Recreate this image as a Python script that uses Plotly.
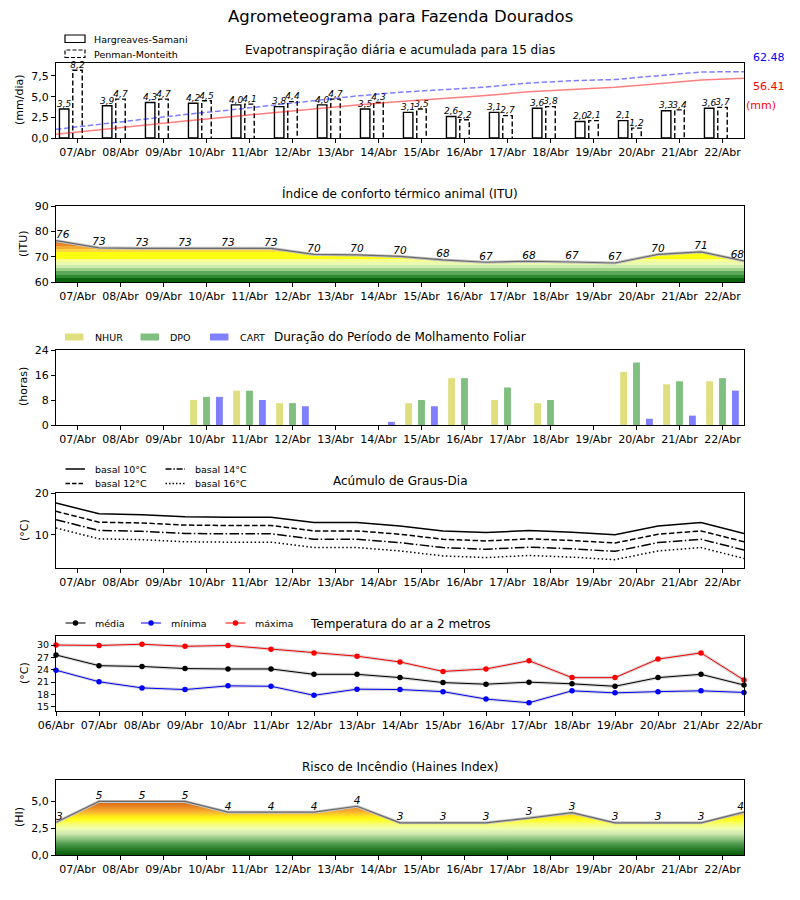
import math
import numpy as np
import plotly.graph_objects as go

# ---------------- data ----------------
dias = ["07/Abr", "08/Abr", "09/Abr", "10/Abr", "11/Abr", "12/Abr", "13/Abr", "14/Abr",
        "15/Abr", "16/Abr", "17/Abr", "18/Abr", "19/Abr", "20/Abr", "21/Abr", "22/Abr"]
dias_temp = ["06/Abr"] + dias

et_hs = [3.5, 3.9, 4.3, 4.2, 4.0, 3.8, 4.0, 3.5, 3.1, 2.6, 3.1, 3.6, 2.0, 2.1, 3.3, 3.6]
et_pm = [8.2, 4.7, 4.7, 4.5, 4.1, 4.4, 4.7, 4.3, 3.5, 2.2, 2.7, 3.8, 2.1, 1.2, 3.4, 3.7]
et_total_hs = 56.41
et_total_pm = 62.48

itu = [76.3, 73.5, 73.3, 73.3, 73.3, 73.3, 70.9, 70.7, 70.1, 68.7, 67.8, 68.2, 67.9, 67.5, 70.9, 71.9, 68.3]

nhur = [0, 0, 0, 8, 11, 7, 0, 0, 7, 15, 8, 7, 0, 17, 13, 14]
dpo = [0, 0, 0, 9, 11, 7, 0, 0, 8, 15, 12, 8, 0, 20, 14, 15]
cart = [0, 0, 0, 9, 8, 6, 0, 1, 6, 0, 0, 0, 0, 2, 3, 11]

gd_10 = [17.6, 15.0, 14.8, 14.3, 14.2, 14.2, 12.9, 12.9, 12.1, 10.9, 10.5, 11.0, 10.6, 10.0, 12.1, 12.9, 10.3]
gd_12 = [15.6, 13.0, 12.8, 12.3, 12.2, 12.2, 10.9, 10.9, 10.1, 8.9, 8.5, 9.0, 8.6, 8.0, 10.1, 10.9, 8.3]
gd_14 = [13.6, 11.0, 10.8, 10.3, 10.2, 10.2, 8.9, 8.9, 8.1, 6.9, 6.5, 7.0, 6.6, 6.0, 8.1, 8.9, 6.3]
gd_16 = [11.6, 9.0, 8.8, 8.3, 8.2, 8.2, 6.9, 6.9, 6.1, 4.9, 4.5, 5.0, 4.6, 4.0, 6.1, 6.9, 4.3]

t_med = [27.6, 25.0, 24.8, 24.3, 24.2, 24.2, 22.9, 22.9, 22.1, 20.9, 20.5, 21.0, 20.6, 20.0, 22.1, 22.9, 20.3]
t_min = [23.9, 21.1, 19.6, 19.2, 20.1, 20.0, 17.8, 19.3, 19.2, 18.7, 16.9, 16.0, 18.9, 18.4, 18.7, 18.9, 18.5]
t_max = [30.0, 29.9, 30.2, 29.7, 29.9, 29.0, 28.1, 27.3, 25.9, 23.6, 24.2, 26.2, 22.1, 22.1, 26.6, 28.1, 21.5]

haines = [3.05, 5.0, 5.0, 5.0, 4.0, 4.0, 4.0, 4.55, 3.0, 3.0, 3.0, 3.45, 3.95, 3.0, 3.0, 3.0, 4.0]

# ---------------- layout helpers ----------------
W, H = 800, 900
FONT = "DejaVu Sans"


def fx(p):
    return p / W


def fy(p):
    return 1 - p / H


XL, XR = 56, 744
panels = [(63, 138), (206, 282), (350, 425), (493, 568), (636, 711), (780, 855)]

fig = go.Figure()

n = len(dias)
xc = np.arange(n) + 0.5          # day centres
xp = np.arange(n + 1)            # 17 point positions


def fmt(v):
    return f"{v:.1f}".replace(".", ",")


# ---------- Panel 1: ET ----------
bw = 0.22
fig.add_trace(go.Bar(x=xc - 0.31, y=et_hs, width=bw, xaxis="x", yaxis="y",
                     marker=dict(color="white", line=dict(color="black", width=1.4)),
                     showlegend=False, hoverinfo="skip"))
ox, oy = [], []
for c, v in zip(xc, et_pm):
    ox += [c - bw / 2, c - bw / 2, c + bw / 2, c + bw / 2, None]
    oy += [0, v, v, 0, None]
fig.add_trace(go.Scatter(x=ox, y=oy, mode="lines", xaxis="x", yaxis="y",
                         line=dict(color="black", width=1.4, dash="5px,2.5px"),
                         showlegend=False, hoverinfo="skip"))
lab_font = dict(family=FONT, size=9, color="black", style="italic")
fig.add_trace(go.Scatter(x=xc - 0.31, y=et_hs, mode="text", text=[fmt(v) for v in et_hs],
                         textposition="top center", textfont=lab_font, xaxis="x", yaxis="y",
                         showlegend=False, cliponaxis=False, hoverinfo="skip"))
fig.add_trace(go.Scatter(x=xc, y=et_pm, mode="text", text=[fmt(v) for v in et_pm],
                         textposition="top center", textfont=lab_font, xaxis="x", yaxis="y",
                         showlegend=False, cliponaxis=False, hoverinfo="skip"))
acc_hs = list(np.cumsum(et_hs)) + [et_total_hs]
acc_pm = list(np.cumsum(et_pm)) + [et_total_pm]
fig.add_trace(go.Scatter(x=xp, y=acc_pm, mode="lines", xaxis="x", yaxis="y7",
                         line=dict(color="rgba(0,0,255,0.5)", width=1.5, dash="5.5px,2.5px"),
                         showlegend=False, hoverinfo="skip"))
fig.add_trace(go.Scatter(x=xp, y=acc_hs, mode="lines", xaxis="x", yaxis="y7",
                         line=dict(color="rgba(255,0,0,0.5)", width=1.5),
                         showlegend=False, hoverinfo="skip"))

# ---------- Panel 2: ITU ----------
itu_scale = [
    [0.00, "#0b640b"], [0.09, "#0b640b"], [0.09, "#2d8a2d"], [0.17, "#2d8a2d"],
    [0.17, "#5aa85a"], [0.25, "#5aa85a"], [0.25, "#9ccf88"], [0.325, "#9ccf88"],
    [0.325, "#cdeab0"], [0.40, "#cdeab0"], [0.40, "#eaf9b0"], [0.47, "#eaf9b0"],
    [0.47, "#f6ff90"], [0.53, "#f6ff90"], [0.53, "#ffff10"], [0.70, "#ffff10"],
    [0.70, "#fdd840"], [0.76, "#fdd840"], [0.76, "#f5ab34"], [0.835, "#f5ab34"],
    [0.835, "#e8842a"], [0.90, "#e8842a"], [0.90, "#d4641c"], [1.00, "#d4641c"],
]
fig.add_trace(go.Scatter(x=xp, y=itu, mode="lines", fill="tozeroy", xaxis="x2", yaxis="y2",
                         fillgradient=dict(type="vertical", colorscale=itu_scale, start=60, stop=77),
                         line=dict(color="#c4c4c4", width=3), showlegend=False, hoverinfo="skip"))
fig.add_trace(go.Scatter(x=xp, y=itu, mode="lines", xaxis="x2", yaxis="y2",
                         line=dict(color="#6a6a6a", width=1.2), showlegend=False, hoverinfo="skip"))
pos = ["top right"] + ["top center"] * (len(itu) - 2) + ["top left"]
lab_font2 = dict(family=FONT, size=10.5, color="black", style="italic")
fig.add_trace(go.Scatter(x=xp, y=itu, mode="text", text=[str(math.floor(v)) for v in itu],
                         textposition=pos, textfont=lab_font2, xaxis="x2", yaxis="y2",
                         showlegend=False, cliponaxis=False, hoverinfo="skip"))

# ---------- Panel 3: Molhamento ----------
mw = 0.16
for vals, off, col in [(nhur, -0.3, "#dfdf80"), (dpo, 0.0, "#80bf80"), (cart, 0.3, "#8080ff")]:
    fig.add_trace(go.Bar(x=xc + off, y=vals, width=mw, xaxis="x3", yaxis="y3",
                         marker=dict(color=col, line=dict(width=0)),
                         showlegend=False, hoverinfo="skip"))

# ---------- Panel 4: Graus-dia ----------
gd_styles = [(gd_10, "solid"), (gd_12, "5.5px,2.4px"), (gd_14, "9.6px,2.4px,1.5px,2.4px"), (gd_16, "1.5px,2.5px")]
for vals, dash in gd_styles:
    fig.add_trace(go.Scatter(x=xp, y=vals, mode="lines", xaxis="x4", yaxis="y4",
                             line=dict(color="black", width=1.5, dash=dash),
                             showlegend=False, hoverinfo="skip"))

# ---------- Panel 5: Temperatura ----------
for vals, col in [(t_med, "black"), (t_min, "blue"), (t_max, "red")]:
    fig.add_trace(go.Scatter(x=xp, y=vals, mode="lines", xaxis="x5", yaxis="y5",
                             line=dict(color="rgba(120,120,120,0.3)", width=3.2),
                             showlegend=False, hoverinfo="skip"))
    fig.add_trace(go.Scatter(x=xp, y=vals, mode="lines+markers", xaxis="x5", yaxis="y5",
                             line=dict(color=col, width=1), marker=dict(color=col, size=5.5),
                             showlegend=False, hoverinfo="skip", cliponaxis=False))

# ---------- Panel 6: Haines ----------
hi_scale = [
    [0.00, "#0a5a0a"], [0.10, "#257a25"], [0.20, "#4f9c4f"], [0.29, "#8fc47f"],
    [0.38, "#cde9ad"], [0.47, "#eefdb4"], [0.56, "#f8ff70"], [0.64, "#ffff18"],
    [0.70, "#ffe41c"], [0.77, "#f8b432"], [0.86, "#ea8a24"], [0.95, "#d56416"], [1.00, "#cc5a12"],
]
fig.add_trace(go.Scatter(x=xp, y=haines, mode="lines", fill="tozeroy", xaxis="x6", yaxis="y6",
                         fillgradient=dict(type="vertical", colorscale=hi_scale, start=0, stop=5.2),
                         line=dict(color="#c4c4c4", width=3), showlegend=False, hoverinfo="skip"))
fig.add_trace(go.Scatter(x=xp, y=haines, mode="lines", xaxis="x6", yaxis="y6",
                         line=dict(color="#6a6a6a", width=1.2), showlegend=False, hoverinfo="skip"))
fig.add_trace(go.Scatter(x=xp, y=haines, mode="text", text=[str(math.floor(v)) for v in haines],
                         textposition=pos, textfont=lab_font2, xaxis="x6", yaxis="y6",
                         showlegend=False, cliponaxis=False, hoverinfo="skip"))

# ---------------- axes ----------------
tickfont = dict(family=FONT, size=11, color="black")
base = dict(showline=True, mirror=True, linecolor="black", linewidth=1, ticks="outside",
            ticklen=4, tickwidth=1, tickcolor="black", showgrid=False, zeroline=False,
            tickfont=tickfont, automargin=False, fixedrange=True)

layout = {}
yspecs = [
    dict(range=[0, 9.07], tickvals=[0, 2.5, 5, 7.5], ticktext=["0,0", "2,5", "5,0", "7,5"]),
    dict(range=[60, 90], tickvals=[60, 70, 80, 90], ticktext=["60", "70", "80", "90"]),
    dict(range=[0, 24], tickvals=[0, 8, 16, 24], ticktext=["0", "8", "16", "24"]),
    dict(range=[2.0, 20], tickvals=[10, 20], ticktext=["10", "20"]),
    dict(range=[14.0, 32.2], tickvals=[15, 18, 21, 24, 27, 30], ticktext=["15", "18", "21", "24", "27", "30"],
         tickfont=dict(family=FONT, size=9.5, color="black")),
    dict(range=[0, 7.0], tickvals=[0, 2.5, 5], ticktext=["0,0", "2,5", "5,0"]),
]
for i, ((top, bot), ys) in enumerate(zip(panels, yspecs), start=1):
    sfx = "" if i == 1 else str(i)
    if i == 5:
        xs = dict(range=[0, 16], tickvals=list(xp), ticktext=dias_temp)
    else:
        xs = dict(range=[0, 16], tickvals=list(xc), ticktext=dias)
    layout["xaxis" + sfx] = dict(base, domain=[fx(XL), fx(XR)], anchor="y" + sfx, **xs)
    yy = dict(base)
    yy.update(ys)
    layout["yaxis" + sfx] = dict(yy, domain=[fy(bot), fy(top)], anchor="x" + sfx)
layout["yaxis7"] = dict(overlaying="y", side="right", range=[0, 70.66], showticklabels=False,
                        showgrid=False, zeroline=False, showline=False, ticks="", fixedrange=True)

# ---------------- annotations ----------------
ann = []


def text(x, y, s, size=11, color="black", xanchor="center", angle=0, **kw):
    ann.append(dict(x=fx(x), y=fy(y), xref="paper", yref="paper", text=s, showarrow=False,
                    xanchor=xanchor, yanchor="middle", textangle=angle,
                    font=dict(family=FONT, size=size, color=color), **kw))


text(400, 17, "Agrometeograma para Fazenda Dourados", size=16.5)
text(400, 50, "Evapotranspiração diária e acumulada para 15 dias", size=12)
text(400, 194, "Índice de conforto térmico animal (ITU)", size=12)
text(400, 337, "Duração do Período de Molhamento Foliar", size=12)
text(400, 481, "Acúmulo de Graus-Dia", size=12)
text(400, 624, "Temperatura do ar a 2 metros", size=12)
text(400, 767, "Risco de Incêndio (Haines Index)", size=12)

text(19, 100, "(mm/dia)", angle=-90)
text(24, 244, "(ITU)", angle=-90)
text(24, 387, "(horas)", angle=-90)
text(24, 530, "(°C)", angle=-90)
text(24, 673, "(°C)", angle=-90)
text(19, 817, "(HI)", angle=-90)

text(769, 57, f"{et_total_pm:.2f}", color="blue", size=11)
text(769, 86, f"{et_total_hs:.2f}", color="red", size=11)
text(761, 105, "(mm)", color="red", size=11)

shapes = []
LEG = 9.5


def rect(x0, x1, y0, y1, fill, dash="solid", lw=1.2):
    shapes.append(dict(type="rect", xref="paper", yref="paper", x0=fx(x0), x1=fx(x1), y0=fy(y1), y1=fy(y0),
                       fillcolor=fill, line=dict(color="black" if fill == "white" else fill, width=lw, dash=dash)))


def hline(x0, x1, y, color="black", dash="solid", lw=1.5):
    shapes.append(dict(type="line", xref="paper", yref="paper", x0=fx(x0), x1=fx(x1), y0=fy(y), y1=fy(y),
                       line=dict(color=color, width=lw, dash=dash)))


def dot(x, y, color, r=2.7):
    shapes.append(dict(type="circle", xref="paper", yref="paper", x0=fx(x - r), x1=fx(x + r),
                       y0=fy(y + r), y1=fy(y - r), fillcolor=color, line=dict(color=color, width=0)))


# ET legend
rect(65, 85, 35, 42.5, "white")
text(92, 39, "Hargreaves-Samani", size=LEG, xanchor="left")
rect(65, 85, 50, 57.5, "white", dash="4px,2px")
text(92, 54, "Penman-Monteith", size=LEG, xanchor="left")

# Molhamento legend
for x0, col, lab in [(65, "#dfdf80", "NHUR"), (140.5, "#80bf80", "DPO"), (210, "#8080ff", "CART")]:
    rect(x0, x0 + 18.5, 333.5, 340.5, col, lw=0)
    text(x0 + 27.5, 337, lab, size=LEG, xanchor="left")

# Graus-dia legend
for x0, y, dash, lab in [(65.5, 469, "solid", "basal 10°C"), (165.5, 469, "6px,1.8px,1.5px,1.8px", "basal 14°C"),
                         (65.5, 483.5, "4.5px,2px", "basal 12°C"), (165.5, 483.5, "1.5px,2px", "basal 16°C")]:
    hline(x0, x0 + 19.5, y, dash=dash)
    text(x0 + 27, y, lab, size=LEG, xanchor="left")

# Temperatura legend
for x0, col, lab in [(65.5, "black", "média"), (141, "blue", "mínima"), (225.5, "red", "máxima")]:
    hline(x0, x0 + 20, 623, color=col, lw=1)
    dot(x0 + 10, 623, col)
    text(x0 + 27.5, 623, lab, size=LEG, xanchor="left")

fig.update_layout(
    width=W, height=H, margin=dict(l=0, r=0, t=0, b=0),
    paper_bgcolor="white", plot_bgcolor="white",
    barmode="overlay", showlegend=False,
    font=dict(family=FONT, size=11, color="black"),
    annotations=ann, shapes=shapes, **layout,
)

fig.write_html("out.html", config={"displayModeBar": False},
               post_script="document.body.style.margin='0';")
